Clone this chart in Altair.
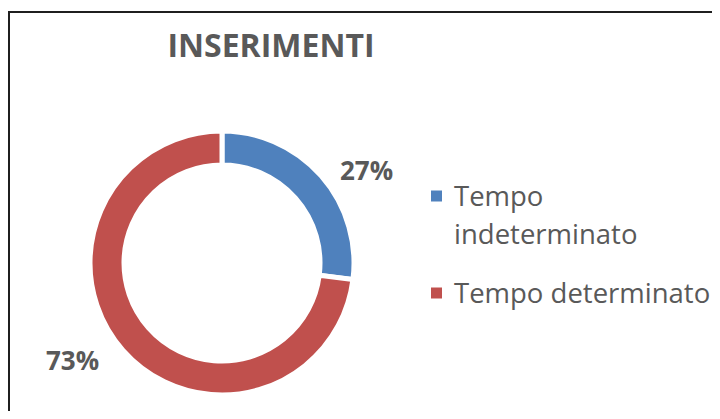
import altair as alt
import pandas as pd

# ---- data ----
title_text = ["INSERIMENTI"]
categories = ["Tempo indeterminato", "Tempo determinato"]
values = [27, 73]
slice_order = [0, 1]
legend_labels = ["Tempo\nindeterminato", "Tempo determinato"]
colors = ["#4F81BD", "#C0504D"]

df = pd.DataFrame({
    "cat": categories,
    "value": values,
    "idx": slice_order,
    "legend": legend_labels,
})
title_df = pd.DataFrame({"t": title_text})
frame_df = pd.DataFrame({"k": [0]})

W, H = 704, 403
OFF = 8  # page margin
CX, CY = 222 - OFF, 263 - OFF
TEXT_GRAY = "#595959"

color = alt.Color("cat:N", scale=alt.Scale(domain=categories, range=colors), legend=None)

base = alt.Chart(df)

arcs = base.mark_arc(innerRadius=98, outerRadius=132, stroke="white", strokeWidth=5).encode(
    theta=alt.Theta("value:Q", stack=True, scale=alt.Scale(domain=[0, 100])),
    color=color,
    order=alt.Order("idx:Q"),
    x=alt.value(CX),
    y=alt.value(CY),
)

lab = base.transform_window(
    cum="sum(value)", sort=[alt.SortField("idx")], frame=[None, 0]
).transform_calculate(
    mid="datum.cum - datum.value / 2",
    label="datum.value + '%'",
)

label_style = dict(font="Open Sans", fontWeight="bold", fontSize=26, color=TEXT_GRAY,
                   align="center", baseline="middle", radius=170)

lab_blue = lab.transform_filter(alt.datum.idx == 0).mark_text(dx=17, dy=21, **label_style).encode(
    theta=alt.Theta("mid:Q", stack=False),
    text="label:N",
    x=alt.value(CX),
    y=alt.value(CY),
)
lab_red = lab.transform_filter(alt.datum.idx == 1).mark_text(dx=-22, dy=-13, **label_style).encode(
    theta=alt.Theta("mid:Q", stack=False),
    text="label:N",
    x=alt.value(CX),
    y=alt.value(CY),
)

leg_y = alt.Y("cat:N", axis=None,
              scale=alt.Scale(type="point", domain=categories, range=[196 - OFF, 293 - OFF], padding=0))

leg_sym = base.mark_square(size=121, opacity=1).encode(
    x=alt.value(436.5 - OFF),
    y=leg_y,
    color=color,
)
leg_txt = base.mark_text(align="left", baseline="alphabetic", dy=10, lineBreak="\n", lineHeight=38,
                         font="Open Sans", fontSize=27.5, color=TEXT_GRAY).encode(
    x=alt.value(454 - OFF),
    y=leg_y,
    text="legend:N",
)

title = alt.Chart(title_df).mark_text(align="center", baseline="alphabetic", font="Open Sans",
                                      fontWeight="bold", fontSize=32, color=TEXT_GRAY).encode(
    text="t:N",
    x=alt.value(271 - OFF),
    y=alt.value(57 - OFF),
)

top_rule = alt.Chart(frame_df).mark_rule(color="#1f1f1f", strokeWidth=2).encode(
    x=alt.value(0), x2=alt.value(W), y=alt.value(4)
)
left_rule = alt.Chart(frame_df).mark_rule(color="#1f1f1f", strokeWidth=2).encode(
    x=alt.value(1), y=alt.value(4), y2=alt.value(H)
)

chart = alt.layer(
    top_rule, left_rule, arcs, lab_blue, lab_red, leg_sym, leg_txt, title
).properties(
    width=W, height=H, autosize="none", padding=0, background="white"
).configure_view(stroke=None)

chart.save("out.html", embed_options={"renderer": "svg", "actions": False})
